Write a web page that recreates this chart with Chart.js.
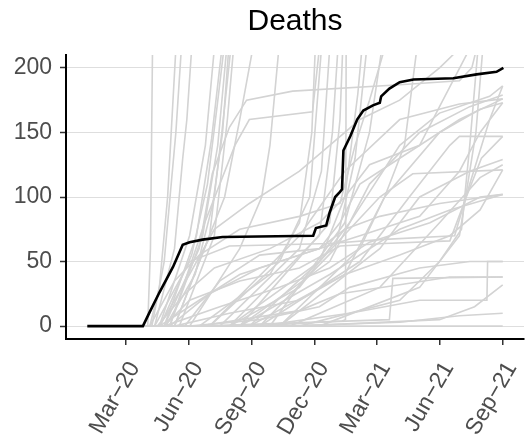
<!DOCTYPE html>
<html>
<head>
<meta charset="utf-8">
<script src="https://cdn.jsdelivr.net/npm/chart.js@4/dist/chart.umd.min.js"></script>
<style>
  html, body { margin: 0; padding: 0; background: #fff; }
</style>
</head>
<body>
<canvas id="myChart" width="525" height="443"></canvas>
<script>
// highlighted region (black line)
const highlightDates = ['2020-01-05','2020-03-26','2020-04-05','2020-04-19','2020-05-09','2020-05-23','2020-06-02','2020-06-21','2020-07-20','2020-11-29','2020-12-03','2020-12-18','2020-12-23','2020-12-31','2021-01-07','2021-01-10','2021-01-12','2021-01-22','2021-02-01','2021-02-10','2021-02-24','2021-03-06','2021-03-08','2021-03-20','2021-04-04','2021-04-24','2021-06-21','2021-07-25','2021-08-23','2021-09-02'];
const highlightDeaths = [0,0,11,26,46,63,65,67,69,70,76,78,88,100,104,106,136,147,160,167,171,173,178,184,189,191,192,195,197,200];

// all other regions (grey lines), [date, cumulative deaths]
const otherRegions = [
    [['2020-03-26',0],['2020-04-02',0],['2020-04-06',60],['2020-04-09',215]],
    [['2020-03-26',0],['2020-04-05',0],['2020-04-19',30],['2020-05-01',100],['2020-05-13',215]],
    [['2020-03-26',0],['2020-04-08',0],['2020-04-26',50],['2020-05-13',150],['2020-05-21',215]],
    [['2020-03-26',0],['2020-04-12',0],['2020-05-11',60],['2020-05-23',130],['2020-05-29',160],['2020-06-05',215]],
    [['2020-03-26',0],['2020-04-19',0],['2020-06-02',70],['2020-06-25',140],['2020-07-08',215]],
    [['2020-03-26',0],['2020-04-26',0],['2020-06-12',70],['2020-07-04',145],['2020-07-19',215]],
    [['2020-03-26',0],['2020-05-04',0],['2020-06-21',70],['2020-07-13',140],['2020-07-26',215]],
    [['2020-03-26',0],['2020-05-11',0],['2020-07-01',70],['2020-07-19',150],['2020-08-01',215]],
    [['2020-03-26',0],['2020-05-18',0],['2020-07-08',70],['2020-07-27',160],['2020-08-05',215]],
    [['2020-03-26',0],['2020-04-20',0],['2020-06-05',55],['2020-06-28',110],['2020-07-12',170],['2020-07-22',215]],
    [['2020-03-26',0],['2020-04-28',0],['2020-06-10',40],['2020-07-06',95],['2020-07-20',150],['2020-07-29',215]],
    [['2020-03-26',0],['2020-05-11',0],['2020-06-16',50],['2020-07-23',100],['2020-08-14',160],['2020-09-02',215]],
    [['2020-03-26',0],['2020-06-02',0],['2020-08-14',60],['2020-09-15',100],['2020-09-27',140],['2020-10-10',215]],
    [['2020-03-26',0],['2020-06-16',0],['2020-09-27',40],['2020-11-09',80],['2020-11-27',150],['2020-12-02',215]],
    [['2020-03-26',0],['2020-07-01',0],['2020-10-11',50],['2020-11-24',100],['2020-12-11',215]],
    [['2020-03-26',0],['2020-07-16',0],['2020-11-09',60],['2020-12-11',120],['2020-12-23',215]],
    [['2020-03-26',0],['2020-07-30',0],['2020-12-08',70],['2020-12-27',150],['2021-01-04',215]],
    [['2020-03-26',0],['2020-09-01',0],['2021-01-10',4],['2021-01-15',5],['2021-01-16',215]],
    [['2020-03-26',0],['2020-08-14',0],['2020-12-23',80],['2021-01-07',160],['2021-01-11',215]],
    [['2020-03-26',0],['2020-08-28',0],['2020-12-08',50],['2021-01-14',100],['2021-02-02',180],['2021-02-08',215]],
    [['2020-03-26',0],['2020-09-12',0],['2020-12-31',60],['2021-01-29',130],['2021-02-15',215]],
    [['2020-03-26',0],['2020-09-27',0],['2021-01-14',80],['2021-02-19',150],['2021-03-09',215]],
    [['2020-03-26',0],['2020-10-11',0],['2021-02-05',60],['2021-03-13',100],['2021-04-11',140],['2021-04-29',215]],
    [['2020-03-26',0],['2020-11-09',0],['2021-04-04',20],['2021-06-01',50],['2021-07-03',75],['2021-07-15',140],['2021-07-27',215]],
    [['2020-03-26',0],['2020-12-08',0],['2021-05-03',30],['2021-06-30',70],['2021-07-24',150],['2021-08-03',215]],
    [['2020-03-26',0],['2020-04-26',0],['2020-06-16',60],['2020-07-05',118],['2020-07-30',154],['2020-08-24',175],['2020-10-30',182],['2021-04-04',187],['2021-06-30',190],['2021-07-18',200],['2021-07-25',215]],
    [['2020-03-26',0],['2020-05-04',0],['2020-06-24',80],['2020-08-07',140],['2020-08-28',160],['2020-11-28',166],['2020-12-08',215]],
    [['2020-03-26',0],['2020-07-30',0],['2020-11-09',30],['2021-01-21',80],['2021-04-04',140],['2021-06-01',165],['2021-08-13',178],['2021-09-01',186]],
    [['2020-03-26',0],['2020-08-14',0],['2020-12-23',50],['2021-02-19',110],['2021-05-03',150],['2021-07-15',170],['2021-09-01',179]],
    [['2020-03-26',0],['2020-07-01',0],['2020-11-09',70],['2021-01-14',120],['2021-04-04',160],['2021-06-30',172],['2021-09-01',176]],
    [['2020-03-26',0],['2020-08-28',0],['2021-01-14',40],['2021-03-13',100],['2021-06-01',150],['2021-07-30',168],['2021-09-01',173]],
    [['2020-03-26',0],['2020-09-12',0],['2021-02-05',50],['2021-04-18',100],['2021-06-16',140],['2021-06-30',147],['2021-09-01',147]],
    [['2020-03-26',0],['2020-10-11',0],['2021-03-06',60],['2021-05-03',100],['2021-07-15',120],['2021-09-01',129]],
    [['2020-03-26',0],['2020-10-26',0],['2021-03-06',30],['2021-06-01',80],['2021-07-30',115],['2021-09-01',125]],
    [['2020-03-26',0],['2020-07-30',0],['2020-12-08',50],['2021-03-06',100],['2021-04-23',118],['2021-09-01',121]],
    [['2020-03-26',0],['2020-08-14',0],['2020-12-23',40],['2021-04-04',75],['2021-06-16',90],['2021-09-01',102]],
    [['2020-03-26',0],['2020-09-12',0],['2021-01-21',10],['2021-05-03',20],['2021-08-09',20],['2021-08-10',50],['2021-09-01',50]],
    [['2020-03-26',0],['2020-06-16',0],['2021-03-20',5],['2021-03-25',37],['2021-09-01',38]],
    [['2020-03-26',0],['2020-11-09',0],['2021-06-01',5],['2021-07-22',15],['2021-09-01',32]],
    [['2020-03-26',0],['2020-10-11',0],['2021-04-04',3],['2021-06-30',8],['2021-09-01',10]],
    [['2020-03-26',0],['2021-09-01',0]],
    [['2020-03-26',0],['2020-04-19',0],['2020-06-16',20],['2020-08-14',40],['2020-11-09',55],['2021-02-05',70],['2021-05-03',85],['2021-06-30',120],['2021-07-30',150],['2021-09-01',173]],
    [['2020-03-26',0],['2020-04-26',0],['2020-07-16',15],['2020-10-11',30],['2020-12-23',45],['2021-02-19',65],['2021-05-18',80],['2021-07-30',100],['2021-09-01',102]],
    [['2020-03-26',0],['2020-05-04',0],['2020-07-01',25],['2020-09-12',45],['2020-12-08',60],['2021-01-07',80],['2021-02-05',110],['2021-04-04',130],['2021-06-30',160],['2021-09-01',176]],
    [['2020-03-26',0],['2020-05-11',0],['2020-07-30',10],['2020-11-09',20],['2021-01-14',40],['2021-04-04',55],['2021-06-16',70],['2021-07-30',90],['2021-09-01',121]],
    [['2020-03-26',0],['2020-05-26',0],['2020-07-16',35],['2020-09-12',55],['2020-12-08',60],['2021-01-14',75],['2021-03-06',85],['2021-06-01',95],['2021-09-01',102]],
    [['2020-03-26',0],['2020-06-02',0],['2020-09-12',5],['2020-12-08',15],['2021-01-21',30],['2021-05-03',45],['2021-07-15',50],['2021-09-01',50]],
    [['2020-03-26',0],['2020-04-19',0],['2020-06-02',40],['2020-07-08',75],['2020-08-28',95],['2020-11-09',120],['2020-12-23',140],['2021-02-05',160],['2021-04-04',175],['2021-06-01',200],['2021-06-30',215]],
    [['2020-03-26',0],['2020-06-16',0],['2020-11-09',12],['2021-01-07',25],['2021-04-04',32],['2021-06-16',38],['2021-09-01',38]],
    [['2020-03-26',0],['2020-04-12',0],['2020-06-02',50],['2020-07-30',62],['2020-12-23',64],['2021-03-06',67],['2021-06-23',70],['2021-07-15',110],['2021-08-13',160],['2021-09-01',186]],
    [['2020-03-26',0],['2020-04-05',0],['2020-05-11',35],['2020-06-16',55],['2020-08-14',75],['2020-11-09',85],['2021-01-07',95],['2021-01-29',140],['2021-02-19',175],['2021-03-13',215]],
    [['2020-03-26',0],['2020-04-16',0],['2020-05-26',25],['2020-07-08',45],['2020-09-27',60],['2020-12-08',80],['2021-01-14',100],['2021-02-19',125],['2021-05-03',140],['2021-06-01',170],['2021-07-15',215]],
    [['2020-03-26',0],['2020-04-26',0],['2020-06-02',20],['2020-08-14',35],['2020-11-09',45],['2021-01-07',62],['2021-03-13',64],['2021-06-16',66],['2021-07-10',100],['2021-08-01',130],['2021-09-01',147]],
];

// axes
const xTickDates = ['2020-03-01','2020-06-01','2020-09-01','2020-12-01','2021-03-01','2021-06-01','2021-09-01'];
const xTickLabels = ['Mar\u221220','Jun\u221220','Sep\u221220','Dec\u221220','Mar\u221221','Jun\u221221','Sep\u221221'];
const xRange = ['2019-12-05', '2021-10-02'];
const yTicks = [0, 50, 100, 150, 200];
const yRange = [-10, 210];

Chart.defaults.font.family = '"Liberation Sans", Arial, sans-serif';

const greyDatasets = otherRegions.map((line) => ({
    data: line.map(([d, v]) => ({ x: Date.parse(d), y: v })),
    borderColor: '#d3d3d3',
    borderWidth: 1.6,
    pointRadius: 0,
    clip: 0,
    order: 1,
}));

const ctx = document.getElementById('myChart').getContext('2d');

const myChart = new Chart(ctx, {
    type: 'line',
    data: {
        datasets: [{
            data: highlightDates.map((d, i) => ({ x: Date.parse(d), y: highlightDeaths[i] })),
            borderColor: '#000000',
            borderWidth: 2.6,
            pointRadius: 0,
            clip: 0,
            order: 0,
        }, ...greyDatasets]
    },
    options: {
        responsive: false,
        animation: false,
        devicePixelRatio: 1,
        layout: {
            padding: { top: 4, left: 0, right: 1, bottom: 0 }
        },
        plugins: {
            legend: { display: false },
            tooltip: { enabled: false },
            title: {
                display: true,
                fullSize: false,
                text: 'Deaths',
                color: '#000000',
                font: { size: 30, weight: 'normal' },
                padding: { top: 0, bottom: 15 },
            }
        },
        scales: {
            x: {
                type: 'linear',
                min: Date.parse(xRange[0]),
                max: Date.parse(xRange[1]),
                afterBuildTicks: (scale) => {
                    scale.ticks = xTickDates.map((d) => ({ value: Date.parse(d) }));
                },
                afterFit: (scale) => {
                    scale.height = 104;
                    scale.paddingLeft = 0;
                    scale.paddingRight = 0;
                },
                ticks: {
                    autoSkip: false,
                    minRotation: 60,
                    maxRotation: 60,
                    color: '#4d4d4d',
                    font: { size: 23 },
                    padding: 12,
                    labelOffset: 9,
                    callback: (value, index) => xTickLabels[index],
                },
                grid: {
                    drawOnChartArea: false,
                    drawTicks: true,
                    tickLength: 6,
                    color: '#333333',
                    lineWidth: 1.5,
                },
                border: { display: true, color: '#000000', width: 2 }
            },
            y: {
                min: yRange[0],
                max: yRange[1],
                afterBuildTicks: (scale) => {
                    scale.ticks = yTicks.map((v) => ({ value: v }));
                },
                afterFit: (scale) => {
                    scale.width = 66;
                    scale.paddingTop = 0;
                    scale.paddingBottom = 0;
                },
                ticks: {
                    color: '#4d4d4d',
                    font: { size: 23 },
                    padding: 8,
                },
                grid: {
                    color: '#dedede',
                    lineWidth: 1,
                    tickColor: '#333333',
                    tickWidth: 1.5,
                    tickLength: 6,
                },
                border: { display: true, color: '#000000', width: 2 }
            }
        }
    }
});
</script>
</body>
</html>
